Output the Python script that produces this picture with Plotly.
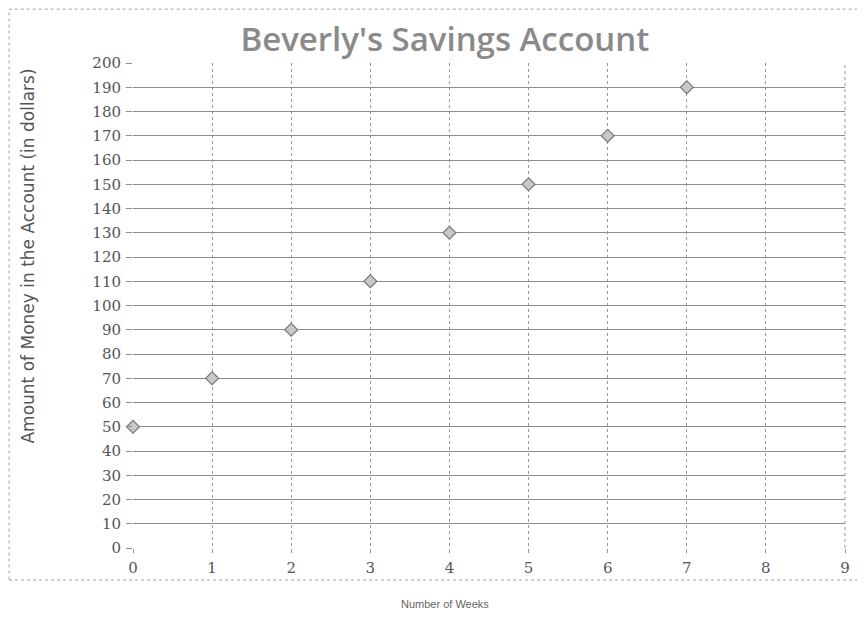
import plotly.graph_objects as go

weeks = [0, 1, 2, 3, 4, 5, 6, 7]
money = [50, 70, 90, 110, 130, 150, 170, 190]
x_ticks = list(range(0, 10))
y_ticks = list(range(0, 201, 10))

fig = go.Figure()
fig.add_trace(go.Scatter(
    x=weeks, y=money, mode="markers",
    marker=dict(symbol="diamond", size=10, color="#c8c8c8",
                line=dict(color="#7a7a7a", width=1.2)),
    showlegend=False, cliponaxis=False,
))

tick_font = dict(family="DejaVu Serif", size=15, color="#555555")

fig.update_layout(
    width=865, height=643,
    margin=dict(l=125, r=28, t=55, b=103),
    paper_bgcolor="white", plot_bgcolor="white",
    title=dict(text="Beverly's Savings Account", x=0.505, xanchor="center",
               y=1 - 31 / 643, yanchor="middle",
               font=dict(family="Open Sans", size=33, weight=600, color="#8a8a8a")),
    xaxis=dict(range=[0, 9], tickvals=x_ticks, ticktext=[str(v) for v in x_ticks],
               showgrid=True, gridcolor="#9a9a9a", griddash="dot", gridwidth=1,
               zeroline=False, showline=False,
               ticks="outside", ticklen=4, tickcolor="#9a9a9a",
               tickfont=tick_font, ticklabelstandoff=2),
    yaxis=dict(range=[0, 200], tickvals=y_ticks, ticktext=[str(v) for v in y_ticks],
               showgrid=True, gridcolor="#8c8c8c", gridwidth=1,
               zeroline=False, showline=False,
               ticks="outside", ticklen=6, tickcolor="#8c8c8c",
               tickfont=tick_font, ticklabelstandoff=2),
    shapes=[
        dict(type="line", xref="paper", yref="paper", x0=1, x1=1, y0=0, y1=1,
             line=dict(color="#9a9a9a", width=1, dash="dot")),
        dict(type="rect", xref="paper", yref="paper",
             x0=-0.174, x1=1.0197, y0=-0.066, y1=1.111,
             line=dict(color="#a0a0a0", width=1, dash="dot")),
    ],
    annotations=[
        dict(text="Number of Weeks", xref="paper", yref="paper",
             x=0.438, y=-0.1155, xanchor="center", yanchor="middle",
             showarrow=False,
             font=dict(family="Liberation Sans", size=11, color="#666666")),
        dict(text="Amount of Money in the Account (in dollars)",
             xref="paper", yref="paper", x=-0.1475, y=0.603,
             xanchor="center", yanchor="middle", textangle=-90, showarrow=False,
             font=dict(family="DejaVu Sans", size=17, color="#555555")),
    ],
)

fig.write_html("out.html")
